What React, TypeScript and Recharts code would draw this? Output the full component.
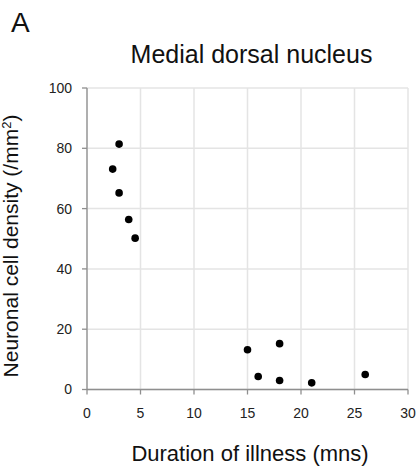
import { ScatterChart, Scatter, XAxis, YAxis, CartesianGrid, Label } from 'recharts';

// Duration of illness (months) vs neuronal cell density, medial dorsal nucleus
const duration = [2.4, 3.0, 3.0, 3.9, 4.5, 15.0, 16.0, 18.0, 18.0, 21.0, 26.0];
const density = [73.1, 81.4, 65.2, 56.4, 50.2, 13.2, 4.3, 15.2, 3.0, 2.2, 5.0];

const xTicks = [0, 5, 10, 15, 20, 25, 30];
const yTicks = [0, 20, 40, 60, 80, 100];

const points = duration.map((d, i) => ({ x: d, y: density[i] }));

const FONT = '"Liberation Sans", Arial, sans-serif';
const AXIS = '#8f8f8f';

const Dot = (props: any) => <circle cx={props.cx} cy={props.cy} r={3.8} fill="#000" />;

export default function App() {
  return (
    <div style={{ position: 'absolute', left: 0, top: 0, background: '#fff' }}>
      <ScatterChart
        width={419}
        height={473}
        margin={{ top: 88, right: 11, bottom: 0, left: 0 }}
        style={{ fontFamily: FONT }}
      >
        <text x={11} y={32} fontSize={28} fill="#111" fontFamily={FONT}>
          A
        </text>
        <text x={251.5} y={63} fontSize={25} fill="#111" textAnchor="middle" fontFamily={FONT}>
          Medial dorsal nucleus
        </text>
        <CartesianGrid stroke="#e4e4e4" strokeWidth={1.5} />
        <XAxis
          type="number"
          dataKey="x"
          domain={[0, 30]}
          ticks={xTicks}
          height={83.5}
          tickSize={5}
          tickMargin={13.5}
          stroke={AXIS}
          strokeWidth={1.3}
          tick={{ fill: '#222', fontSize: 14 }}
        >
          <Label
            value="Duration of illness (mns)"
            position="insideBottom"
            offset={12}
            dx={2.5}
            style={{ fontSize: 22, fill: '#111' }}
          />
        </XAxis>
        <YAxis
          type="number"
          dataKey="y"
          domain={[0, 100]}
          ticks={yTicks}
          width={87}
          tickSize={5}
          tickMargin={10}
          stroke={AXIS}
          strokeWidth={1.3}
          tick={{ fill: '#222', fontSize: 14 }}
        >
          <Label
            content={() => (
              <text
                x={18}
                y={246}
                transform="rotate(-90 18 246)"
                textAnchor="middle"
                fontSize={21}
                fill="#111"
                fontFamily={FONT}
              >
                Neuronal cell density (/mm
                <tspan dy={-7} fontSize={13}>2</tspan>
                <tspan dy={7}>)</tspan>
              </text>
            )}
          />
        </YAxis>
        <Scatter data={points} shape={Dot} isAnimationActive={false} />
      </ScatterChart>
    </div>
  );
}
